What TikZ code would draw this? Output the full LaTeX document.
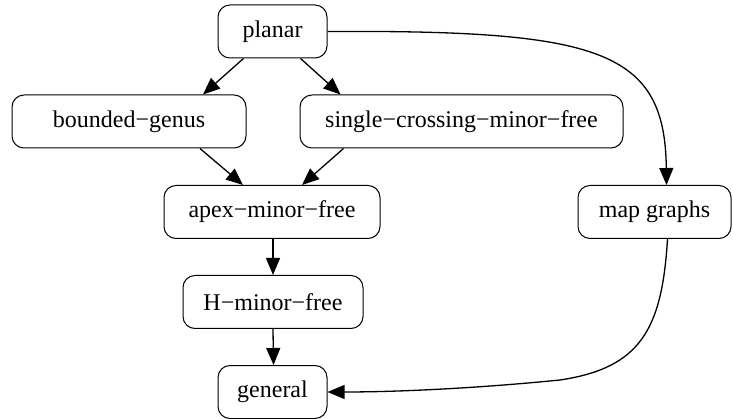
\documentclass[tikz,border=0pt]{standalone}
\usepackage{fontspec}
\setmainfont{Liberation Serif}
\newfontfamily\boxfont{Liberation Serif}
\usetikzlibrary{arrows.meta}

\begin{document}
\begin{tikzpicture}[x=1pt,y=-1pt,
  box/.style={draw,rounded corners=12pt,line width=1pt,minimum height=53pt,inner sep=0pt,font=\boxfont\fontsize{24}{28}\selectfont},
  edge/.style={line width=1.3pt,-{Triangle[length=17pt,width=14pt]}}]
\useasboundingbox (0,0) rectangle (733,419);
\coordinate (P) at (272.5,31.5);
\coordinate (B) at (129,121.5);
\coordinate (S) at (461.5,121.5);
\coordinate (A) at (272,212);
\coordinate (M) at (654.5,212);
\coordinate (H) at (273,302);
\coordinate (G) at (272.5,392);
\node[box,minimum width=109pt] (planar) at (P){planar};
\node[box,minimum width=234pt] (bgenus) at (B){bounded−genus};
\node[box,minimum width=323pt] (single) at (S){single−crossing−minor−free};
\node[box,minimum width=216pt] (apex) at (A){apex−minor−free};
\node[box,minimum width=153pt] (mapg) at (M){map graphs};
\node[box,minimum width=180pt] (hminor) at (H){H−minor−free};
\node[box,minimum width=109pt] (general) at (G){general};
\draw[edge] ([xshift=-29pt]planar.south) -- ([xshift=74pt]bgenus.north);
\draw[edge] ([xshift=28pt]planar.south) -- ([xshift=-121pt]single.north);
\draw[edge] ([xshift=71pt]bgenus.south) -- ([xshift=-29pt]apex.north);
\draw[edge] ([xshift=-118pt]single.south) -- ([xshift=30pt]apex.north);
\draw[edge] ([xshift=1pt]apex.south) -- (hminor.north);
\draw[edge] (hminor.south) -- ([xshift=1pt]general.north);
\draw[edge] (planar.east) .. controls (600,30) and (665,50) .. ([xshift=12pt]mapg.north);
\draw[edge] ([xshift=13pt]mapg.south) .. controls (662,330) and (640,368) .. (560,380)
  .. controls (480,388) and (400,392) .. (general.east);
\end{tikzpicture}
\end{document}
